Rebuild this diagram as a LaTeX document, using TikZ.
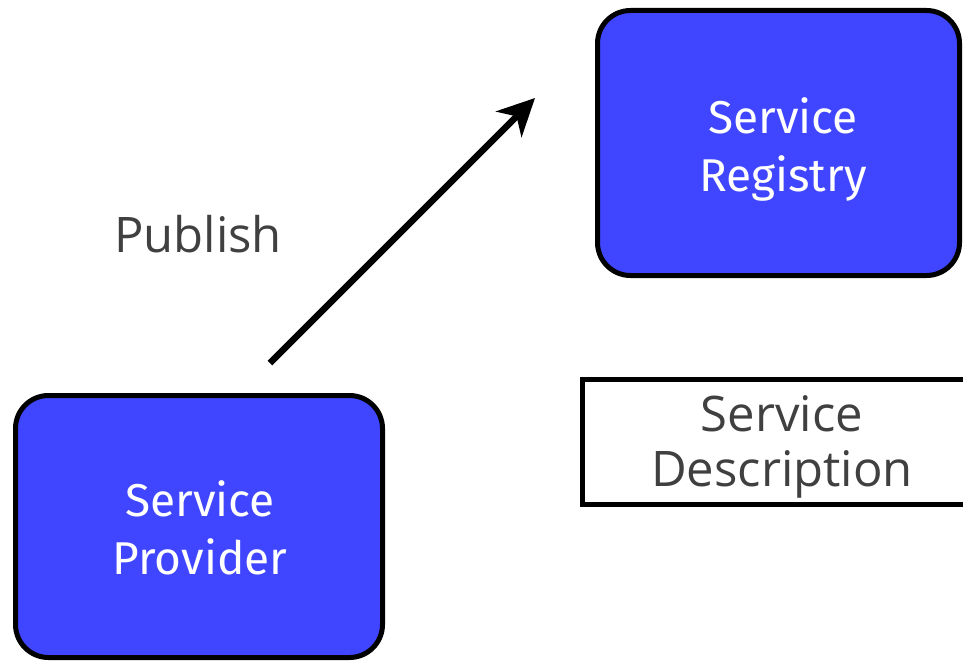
\documentclass[tikz,border=0pt]{standalone}
\usepackage{fontspec}
\setmainfont{Open Sans}
\newfontfamily\firafont{Fira Sans}
\usetikzlibrary{arrows.meta}
\definecolor{boxblue}{RGB}{64,70,255}
\definecolor{txtgray}{RGB}{64,64,64}
\tikzset{
  bluebox/.style={draw=black, line width=5pt, fill=boxblue, rounded corners=33pt, inner sep=0pt},
  boxtext/.style={text=white, align=center, inner sep=0pt, text depth=0pt, font=\firafont\fontsize{46}{58}\selectfont},
  graytext/.style={text=txtgray, align=center, inner sep=0pt, font=\fontsize{49}{55}\selectfont},
  plainbox/.style={draw=black, line width=5pt, fill=white, inner sep=0pt},
  pubarrow/.style={line width=6.5pt, -{Stealth[length=37pt, width=36pt, inset=11pt]}}
}
\begin{document}
\begin{tikzpicture}[x=1pt,y=-1pt]
\useasboundingbox (0,0) rectangle (963,661);
\fill[white] (0,0) rectangle (963,661);
% boxes
\node[bluebox, minimum width=362pt, minimum height=265pt] (registry) at (778.5,143) {};
\node[boxtext] (regtext) at (783,144.5) {Service\\Registry};
\node[bluebox, minimum width=367pt, minimum height=262pt] (provider) at (199,526.5) {};
\node[boxtext] (provtext) at (200,528) {Service\\Provider};
\node[plainbox, minimum width=399pt, minimum height=125pt] (desc) at (782,442) {};
\node[graytext, text depth=0pt] (desctext) at (782,441) {Service\\Description};
% publish
\node[graytext, anchor=base] (publish) at (198,252) {Publish};
\coordinate (arrstart) at (270,363);
\coordinate (arrend) at (535,98);
\draw[pubarrow] (arrstart) -- (arrend);
\end{tikzpicture}
\end{document}
